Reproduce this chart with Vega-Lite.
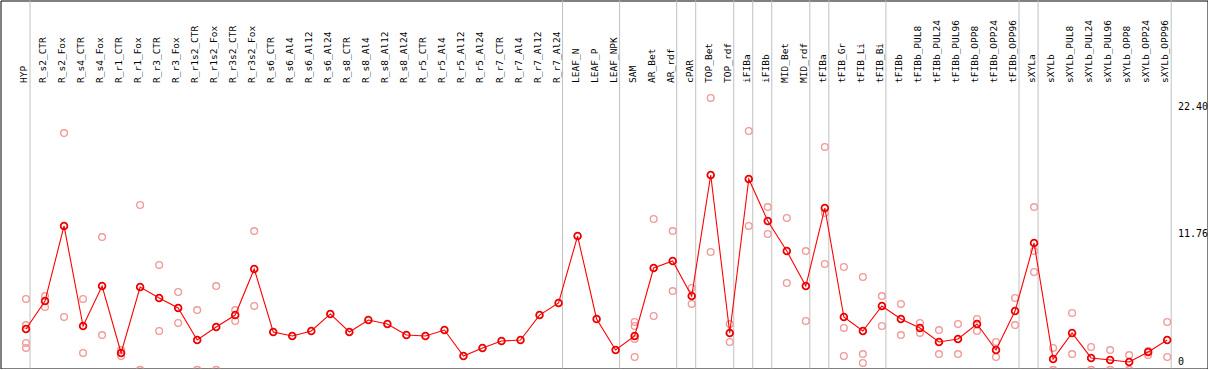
{
  "$schema": "https://vega.github.io/schema/vega-lite/v6.json",
  "width": 1207,
  "height": 368,
  "padding": {"left": 0.5, "top": 0.5, "right": 0.5, "bottom": 0.5},
  "autosize": {"type": "none"},
  "background": "white",
  "config": {"view": {"stroke": "black", "strokeWidth": 1}, "text": {"font": "DejaVu Sans Mono"}},
  "datasets": {
    "means": [
      {"sample": "HYP", "value": 3.45},
      {"sample": "R_s2_CTR", "value": 5.74},
      {"sample": "R_s2_Fox", "value": 11.9},
      {"sample": "R_s4_CTR", "value": 3.69},
      {"sample": "R_s4_Fox", "value": 6.97},
      {"sample": "R_r1_CTR", "value": 1.48},
      {"sample": "R_r1_Fox", "value": 6.89},
      {"sample": "R_r3_CTR", "value": 5.99},
      {"sample": "R_r3_Fox", "value": 5.17},
      {"sample": "R_r1s2_CTR", "value": 2.54},
      {"sample": "R_r1s2_Fox", "value": 3.61},
      {"sample": "R_r3s2_CTR", "value": 4.59},
      {"sample": "R_r3s2_Fox", "value": 8.37},
      {"sample": "R_s6_CTR", "value": 3.2},
      {"sample": "R_s6_Al4", "value": 2.87},
      {"sample": "R_s6_Al12", "value": 3.28},
      {"sample": "R_s6_Al24", "value": 4.68},
      {"sample": "R_s8_CTR", "value": 3.2},
      {"sample": "R_s8_Al4", "value": 4.18},
      {"sample": "R_s8_Al12", "value": 3.86},
      {"sample": "R_s8_Al24", "value": 2.95},
      {"sample": "R_r5_CTR", "value": 2.87},
      {"sample": "R_r5_Al4", "value": 3.36},
      {"sample": "R_r5_Al12", "value": 1.23},
      {"sample": "R_r5_Al24", "value": 1.89},
      {"sample": "R_r7_CTR", "value": 2.46},
      {"sample": "R_r7_Al4", "value": 2.54},
      {"sample": "R_r7_Al12", "value": 4.59},
      {"sample": "R_r7_Al24", "value": 5.58},
      {"sample": "LEAF_N", "value": 11.07},
      {"sample": "LEAF_P", "value": 4.27},
      {"sample": "LEAF_NPK", "value": 1.72},
      {"sample": "SAM", "value": 2.87},
      {"sample": "AR_Bet", "value": 8.45},
      {"sample": "AR_rdf", "value": 9.02},
      {"sample": "cPAR", "value": 6.15},
      {"sample": "TOP_Bet", "value": 16.08},
      {"sample": "TOP_rdf", "value": 3.12},
      {"sample": "iFIBa", "value": 15.75},
      {"sample": "iFIBb", "value": 12.31},
      {"sample": "MID_Bet", "value": 9.84},
      {"sample": "MID_rdf", "value": 6.97},
      {"sample": "tFIBa", "value": 13.37},
      {"sample": "tFIB_Gr", "value": 4.43},
      {"sample": "tFIB_Li", "value": 3.28},
      {"sample": "tFIB_Bi", "value": 5.33},
      {"sample": "tFIBb", "value": 4.27},
      {"sample": "tFIBb_PUL8", "value": 3.53},
      {"sample": "tFIBb_PUL24", "value": 2.38},
      {"sample": "tFIBb_PUL96", "value": 2.63},
      {"sample": "tFIBb_OPP8", "value": 3.86},
      {"sample": "tFIBb_OPP24", "value": 1.72},
      {"sample": "tFIBb_OPP96", "value": 4.92},
      {"sample": "sXYLa", "value": 10.5},
      {"sample": "sXYLb", "value": 0.98},
      {"sample": "sXYLb_PUL8", "value": 3.12},
      {"sample": "sXYLb_PUL24", "value": 1.07},
      {"sample": "sXYLb_PUL96", "value": 0.9},
      {"sample": "sXYLb_OPP8", "value": 0.74},
      {"sample": "sXYLb_OPP24", "value": 1.56},
      {"sample": "sXYLb_OPP96", "value": 2.54}
    ],
    "reps": [
      {"sample": "HYP", "value": 5.91}, {"sample": "HYP", "value": 3.77}, {"sample": "HYP", "value": 2.3}, {"sample": "HYP", "value": 1.89},
      {"sample": "R_s2_CTR", "value": 6.15}, {"sample": "R_s2_CTR", "value": 5.25},
      {"sample": "R_s2_Fox", "value": 19.52}, {"sample": "R_s2_Fox", "value": 4.43},
      {"sample": "R_s4_CTR", "value": 5.91}, {"sample": "R_s4_CTR", "value": 1.48},
      {"sample": "R_s4_Fox", "value": 10.99}, {"sample": "R_s4_Fox", "value": 2.95},
      {"sample": "R_r1_CTR", "value": 1.23}, {"sample": "R_r1_CTR", "value": 1.72},
      {"sample": "R_r1_Fox", "value": 13.62}, {"sample": "R_r1_Fox", "value": 0.1},
      {"sample": "R_r3_CTR", "value": 8.7}, {"sample": "R_r3_CTR", "value": 3.28},
      {"sample": "R_r3_Fox", "value": 6.48}, {"sample": "R_r3_Fox", "value": 3.94},
      {"sample": "R_r1s2_CTR", "value": 5.0}, {"sample": "R_r1s2_CTR", "value": 0.1},
      {"sample": "R_r1s2_Fox", "value": 6.97}, {"sample": "R_r1s2_Fox", "value": 0.1},
      {"sample": "R_r3s2_CTR", "value": 5.0}, {"sample": "R_r3s2_CTR", "value": 4.1},
      {"sample": "R_r3s2_Fox", "value": 11.48}, {"sample": "R_r3s2_Fox", "value": 5.33},
      {"sample": "SAM", "value": 4.02}, {"sample": "SAM", "value": 3.69}, {"sample": "SAM", "value": 2.63}, {"sample": "SAM", "value": 1.15},
      {"sample": "AR_Bet", "value": 12.47}, {"sample": "AR_Bet", "value": 4.51},
      {"sample": "AR_rdf", "value": 11.48}, {"sample": "AR_rdf", "value": 6.56},
      {"sample": "cPAR", "value": 6.81}, {"sample": "cPAR", "value": 5.5},
      {"sample": "TOP_Bet", "value": 22.4}, {"sample": "TOP_Bet", "value": 9.76},
      {"sample": "TOP_rdf", "value": 3.86}, {"sample": "TOP_rdf", "value": 2.38},
      {"sample": "iFIBa", "value": 19.69}, {"sample": "iFIBa", "value": 11.9},
      {"sample": "iFIBb", "value": 13.45}, {"sample": "iFIBb", "value": 11.24},
      {"sample": "MID_Bet", "value": 12.55}, {"sample": "MID_Bet", "value": 7.22},
      {"sample": "MID_rdf", "value": 9.84}, {"sample": "MID_rdf", "value": 4.1},
      {"sample": "tFIBa", "value": 18.38}, {"sample": "tFIBa", "value": 12.96}, {"sample": "tFIBa", "value": 8.78},
      {"sample": "tFIB_Gr", "value": 8.53}, {"sample": "tFIB_Gr", "value": 3.53}, {"sample": "tFIB_Gr", "value": 1.23},
      {"sample": "tFIB_Li", "value": 7.71}, {"sample": "tFIB_Li", "value": 1.39}, {"sample": "tFIB_Li", "value": 0.66},
      {"sample": "tFIB_Bi", "value": 6.15}, {"sample": "tFIB_Bi", "value": 3.69},
      {"sample": "tFIBb", "value": 5.5}, {"sample": "tFIBb", "value": 2.95},
      {"sample": "tFIBb_PUL8", "value": 3.94}, {"sample": "tFIBb_PUL8", "value": 3.12},
      {"sample": "tFIBb_PUL24", "value": 3.36}, {"sample": "tFIBb_PUL24", "value": 1.39},
      {"sample": "tFIBb_PUL96", "value": 3.86}, {"sample": "tFIBb_PUL96", "value": 1.39},
      {"sample": "tFIBb_OPP8", "value": 4.27}, {"sample": "tFIBb_OPP8", "value": 3.28},
      {"sample": "tFIBb_OPP24", "value": 2.38}, {"sample": "tFIBb_OPP24", "value": 1.15},
      {"sample": "tFIBb_OPP96", "value": 5.99}, {"sample": "tFIBb_OPP96", "value": 3.77},
      {"sample": "sXYLa", "value": 13.45}, {"sample": "sXYLa", "value": 9.84}, {"sample": "sXYLa", "value": 8.12},
      {"sample": "sXYLb", "value": 1.89}, {"sample": "sXYLb", "value": 0.1},
      {"sample": "sXYLb_PUL8", "value": 4.76}, {"sample": "sXYLb_PUL8", "value": 1.39},
      {"sample": "sXYLb_PUL24", "value": 1.97}, {"sample": "sXYLb_PUL24", "value": 0.1},
      {"sample": "sXYLb_PUL96", "value": 1.72}, {"sample": "sXYLb_PUL96", "value": 0.1},
      {"sample": "sXYLb_OPP8", "value": 1.31}, {"sample": "sXYLb_OPP8", "value": 0.1},
      {"sample": "sXYLb_OPP24", "value": 1.64}, {"sample": "sXYLb_OPP24", "value": 1.31},
      {"sample": "sXYLb_OPP96", "value": 4.02}, {"sample": "sXYLb_OPP96", "value": 1.15}
    ],
    "seps": [
      {"sample": "HYP"}, {"sample": "R_r7_Al24"}, {"sample": "LEAF_NPK"}, {"sample": "AR_rdf"},
      {"sample": "cPAR"}, {"sample": "TOP_rdf"}, {"sample": "iFIBa"}, {"sample": "iFIBb"},
      {"sample": "MID_rdf"}, {"sample": "tFIBa"}, {"sample": "tFIB_Bi"}, {"sample": "tFIBb_OPP96"},
      {"sample": "sXYLa"}, {"sample": "sXYLb_OPP96"}
    ]
  },
  "layer": [
    {
      "data": {"name": "seps"},
      "mark": {"type": "rule", "color": "#c0c0c0", "strokeWidth": 1, "xOffset": 4},
      "encoding": {
        "x": {"field": "sample", "type": "nominal", "axis": null,
          "scale": {"type": "point", "padding": 0, "range": [25.5, 1166.7],
            "domain": ["HYP","R_s2_CTR","R_s2_Fox","R_s4_CTR","R_s4_Fox","R_r1_CTR","R_r1_Fox","R_r3_CTR","R_r3_Fox","R_r1s2_CTR","R_r1s2_Fox","R_r3s2_CTR","R_r3s2_Fox","R_s6_CTR","R_s6_Al4","R_s6_Al12","R_s6_Al24","R_s8_CTR","R_s8_Al4","R_s8_Al12","R_s8_Al24","R_r5_CTR","R_r5_Al4","R_r5_Al12","R_r5_Al24","R_r7_CTR","R_r7_Al4","R_r7_Al12","R_r7_Al24","LEAF_N","LEAF_P","LEAF_NPK","SAM","AR_Bet","AR_rdf","cPAR","TOP_Bet","TOP_rdf","iFIBa","iFIBb","MID_Bet","MID_rdf","tFIBa","tFIB_Gr","tFIB_Li","tFIB_Bi","tFIBb","tFIBb_PUL8","tFIBb_PUL24","tFIBb_PUL96","tFIBb_OPP8","tFIBb_OPP24","tFIBb_OPP96","sXYLa","sXYLb","sXYLb_PUL8","sXYLb_PUL24","sXYLb_PUL96","sXYLb_OPP8","sXYLb_OPP24","sXYLb_OPP96"]}}
      }
    },
    {
      "mark": {"type": "rule", "color": "#c0c0c0", "strokeWidth": 1, "xOffset": -16},
      "encoding": {"x": {"datum": "HYP", "type": "nominal"}}
    },
    {
      "mark": {"type": "rule", "color": "#c0c0c0", "strokeWidth": 1, "xOffset": -25.5, "x2Offset": 3.3},
      "encoding": {
        "x": {"datum": "HYP", "type": "nominal"},
        "x2": {"datum": "sXYLb_OPP96"},
        "y": {"datum": 11.76, "type": "quantitative", "axis": null,
          "scale": {"domain": [0.205, 30.394], "zero": false, "nice": false}}
      }
    },
    {
      "mark": {"type": "rule", "color": "black", "strokeWidth": 1},
      "encoding": {"y": {"datum": 23.42, "type": "quantitative"}}
    },
    {
      "data": {"name": "means"},
      "mark": {"type": "text", "angle": 270, "align": "left", "baseline": "middle", "fontSize": 9.5, "dy": -2, "color": "black"},
      "encoding": {
        "x": {"field": "sample", "type": "nominal"},
        "y": {"datum": 23.63, "type": "quantitative"},
        "text": {"field": "sample"}
      }
    },
    {
      "data": {"name": "reps"},
      "mark": {"type": "point", "shape": "circle", "filled": false, "size": 45, "stroke": "#f09a9a", "strokeWidth": 1.4, "opacity": 1, "clip": true},
      "encoding": {
        "x": {"field": "sample", "type": "nominal"},
        "y": {"field": "value", "type": "quantitative"}
      }
    },
    {
      "data": {"name": "means"},
      "mark": {"type": "line", "stroke": "#ff0000", "strokeWidth": 1.1, "clip": true},
      "encoding": {
        "x": {"field": "sample", "type": "nominal"},
        "y": {"field": "value", "type": "quantitative"}
      }
    },
    {
      "data": {"name": "means"},
      "mark": {"type": "point", "shape": "circle", "filled": false, "size": 45, "stroke": "#ee0000", "strokeWidth": 1.8, "opacity": 1, "clip": true},
      "encoding": {
        "x": {"field": "sample", "type": "nominal"},
        "y": {"field": "value", "type": "quantitative"}
      }
    },
    {
      "mark": {"type": "text", "align": "left", "baseline": "alphabetic", "fontSize": 10, "color": "#ff0000", "dx": -17, "dy": 4},
      "encoding": {
        "x": {"datum": "HYP", "type": "nominal"},
        "y": {"datum": 22.4, "type": "quantitative"},
        "text": {"value": "Lus10017664"}
      }
    },
    {
      "data": {"values": [{"label": "22.40", "v": 22.4}]},
      "mark": {"type": "text", "align": "left", "baseline": "top", "fontSize": 10, "color": "black", "dx": 10.8, "dy": 4},
      "encoding": {
        "x": {"datum": "sXYLb_OPP96", "type": "nominal"},
        "y": {"field": "v", "type": "quantitative"},
        "text": {"field": "label"}
      }
    },
    {
      "data": {"values": [{"label": "11.76", "v": 11.76}]},
      "mark": {"type": "text", "align": "left", "baseline": "top", "fontSize": 10, "color": "black", "dx": 10.8, "dy": 1.5},
      "encoding": {
        "x": {"datum": "sXYLb_OPP96", "type": "nominal"},
        "y": {"field": "v", "type": "quantitative"},
        "text": {"field": "label"}
      }
    },
    {
      "data": {"values": [{"label": "0", "v": 0}]},
      "mark": {"type": "text", "align": "left", "baseline": "alphabetic", "fontSize": 10, "color": "black", "dx": 10.8, "dy": -5.5},
      "encoding": {
        "x": {"datum": "sXYLb_OPP96", "type": "nominal"},
        "y": {"field": "v", "type": "quantitative"},
        "text": {"field": "label"}
      }
    }
  ]
}
